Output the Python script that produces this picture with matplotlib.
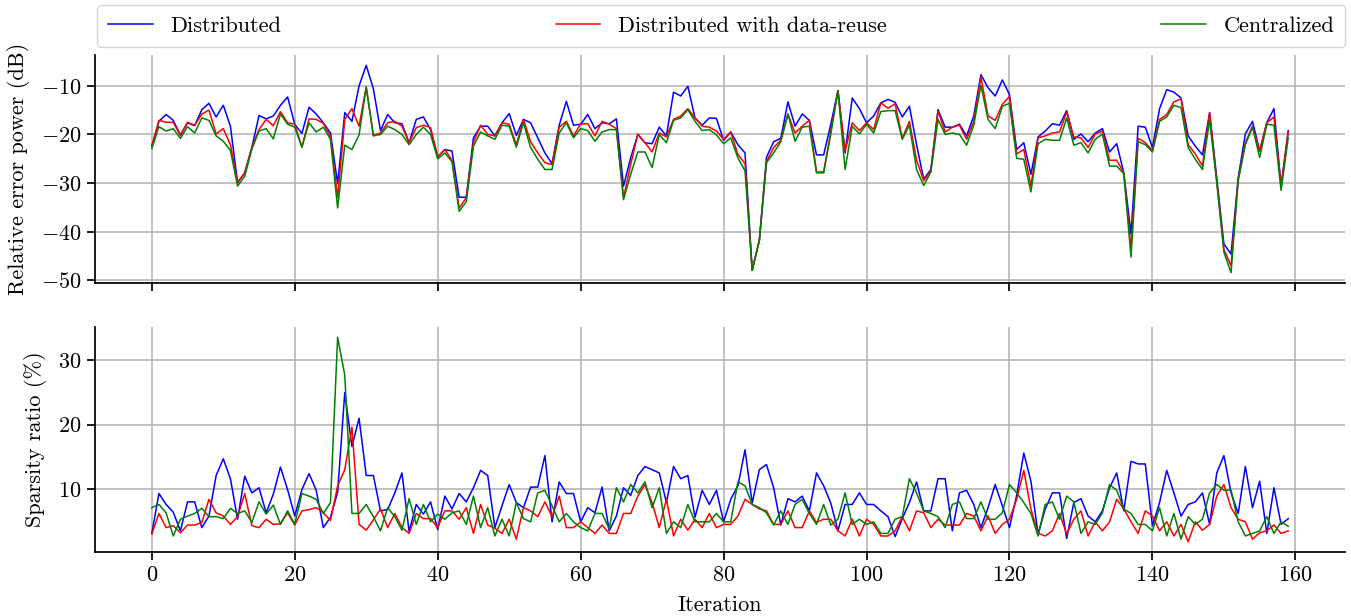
import matplotlib
matplotlib.use("Agg")
import matplotlib.pyplot as plt
import numpy as np

plt.rcParams['font.family'] = 'serif'
plt.rcParams['font.serif'] = ['cmr10', 'DejaVu Serif']
plt.rcParams['mathtext.fontset'] = 'cm'
plt.rcParams['axes.formatter.use_mathtext'] = True
plt.rcParams['font.size'] = 16

labels = ['Distributed', 'Distributed with data-reuse', 'Centralized']
colors = ['blue', 'red', 'green']

# relative error power (dB)
err_dist = [-22.4, -17.3, -15.9, -17.1, -20.1, -17.6, -18.2, -14.9, -13.6, -16.4,
            -14.0, -18.3, -29.9, -27.9, -22.7, -16.1, -16.8, -16.2, -14.0, -12.3,
            -17.9, -19.8, -14.4, -15.8, -17.6, -19.7, -30.1, -15.5, -17.3, -10.0,
            -5.8, -10.6, -19.2, -15.9, -17.6, -17.8, -21.7, -16.9, -16.4, -19.0,
            -24.6, -23.1, -23.4, -32.9, -32.9, -20.7, -18.3, -18.3, -20.3, -17.6,
            -15.7, -20.2, -16.9, -17.6, -20.7, -23.8, -26.0, -18.1, -13.2, -18.1,
            -17.9, -15.9, -18.8, -17.6, -17.8, -16.8, -30.6, -24.8, -20.0, -21.7,
            -21.9, -18.5, -20.3, -11.3, -12.1, -10.1, -16.6, -18.1, -16.6, -16.7,
            -21.2, -19.5, -22.1, -23.8, -47.9, -41.8, -24.7, -21.5, -20.8, -13.3,
            -18.3, -15.8, -17.1, -24.2, -24.2, -17.9, -11.0, -23.8, -12.5, -14.7,
            -17.6, -16.2, -13.5, -12.8, -13.4, -16.4, -14.2, -22.1, -29.2, -27.2,
            -14.9, -18.5, -18.5, -17.9, -20.3, -16.2, -7.7, -10.4, -12.1, -8.8,
            -11.8, -23.1, -21.7, -28.2, -20.5, -19.3, -17.8, -18.1, -15.1, -21.0,
            -19.9, -21.5, -19.7, -18.8, -23.6, -21.9, -27.9, -40.5, -18.3, -18.5,
            -22.7, -14.7, -10.8, -11.3, -12.5, -20.3, -22.4, -24.2, -15.5, -28.9,
            -42.5, -44.6, -28.9, -19.9, -17.3, -23.4, -17.6, -14.7, -30.6, -19.2]
err_reuse = [-22.4, -17.1, -17.5, -17.5, -20.2, -17.5, -18.1, -15.8, -15.0, -19.9,
             -18.8, -22.1, -29.9, -27.9, -22.7, -19.0, -16.9, -18.2, -15.3, -17.6,
             -17.9, -22.6, -16.8, -16.9, -17.7, -20.5, -33.0, -16.9, -14.7, -18.3,
             -10.2, -20.2, -19.7, -17.6, -17.3, -18.3, -21.7, -18.6, -18.1, -18.6,
             -24.6, -23.1, -25.3, -35.1, -33.0, -21.7, -18.1, -20.0, -20.3, -17.6,
             -17.9, -22.1, -16.9, -21.5, -23.8, -25.8, -26.2, -18.5, -17.3, -20.3,
             -17.8, -17.8, -20.3, -17.3, -17.9, -18.8, -33.0, -26.2, -19.9, -21.7,
             -23.6, -19.7, -20.5, -16.9, -16.2, -14.7, -16.6, -18.3, -18.5, -19.3,
             -21.0, -19.5, -24.1, -26.0, -47.9, -41.8, -25.6, -22.7, -21.2, -15.8,
             -19.7, -18.3, -17.1, -27.7, -27.7, -19.3, -11.0, -23.4, -17.6, -19.2,
             -17.6, -19.0, -13.5, -14.6, -13.7, -20.8, -17.3, -25.3, -29.5, -27.5,
             -15.2, -19.5, -18.5, -18.1, -21.0, -17.3, -8.2, -16.2, -17.1, -13.8,
             -12.2, -24.0, -23.1, -30.6, -20.7, -20.3, -19.7, -19.5, -15.4, -20.5,
             -20.7, -22.7, -19.9, -19.3, -25.3, -25.3, -27.9, -43.6, -20.8, -21.7,
             -23.3, -16.9, -15.9, -13.3, -12.7, -22.1, -24.0, -26.5, -15.5, -29.5,
             -43.6, -47.0, -29.2, -21.7, -18.3, -23.4, -17.6, -16.4, -30.6, -19.5]
err_central = [-22.9, -18.4, -19.3, -18.8, -20.8, -18.4, -19.7, -16.6, -17.1, -20.3,
               -21.4, -23.3, -30.6, -28.6, -23.0, -19.3, -18.8, -20.9, -15.8, -17.9,
               -18.5, -22.6, -17.6, -19.5, -18.5, -21.0, -35.1, -22.2, -23.1, -20.1,
               -10.3, -20.3, -20.0, -18.3, -19.0, -20.0, -22.1, -20.0, -18.5, -20.0,
               -25.0, -23.8, -25.6, -35.8, -33.8, -22.4, -19.5, -20.3, -21.0, -18.1,
               -18.3, -22.6, -17.6, -22.7, -25.1, -27.2, -27.2, -19.7, -17.6, -20.7,
               -18.8, -19.2, -21.4, -19.5, -19.0, -19.0, -33.4, -28.2, -23.6, -23.6,
               -26.8, -20.0, -21.7, -17.1, -16.6, -14.9, -17.3, -19.2, -19.0, -20.1,
               -21.9, -20.7, -24.8, -27.5, -47.9, -41.8, -25.8, -23.8, -21.5, -15.8,
               -21.4, -18.5, -18.3, -27.9, -27.9, -19.9, -11.0, -27.2, -18.3, -19.9,
               -17.9, -19.7, -15.3, -15.1, -15.1, -21.0, -18.1, -27.2, -30.5, -27.7,
               -16.9, -20.0, -19.7, -20.0, -22.2, -18.1, -9.9, -16.9, -18.8, -14.2,
               -13.6, -24.9, -25.1, -31.8, -21.9, -21.0, -21.2, -21.2, -16.6, -22.2,
               -21.7, -23.8, -21.0, -19.9, -26.5, -26.5, -28.1, -45.2, -21.5, -22.1,
               -23.6, -17.3, -16.4, -14.0, -14.5, -22.7, -25.1, -27.2, -16.9, -29.9,
               -44.2, -48.4, -29.5, -22.1, -18.5, -24.7, -17.9, -18.1, -31.5, -20.7]

# sparsity ratio (%)
sp_dist = [3.1, 9.3, 7.6, 6.4, 3.5, 8.0, 8.0, 4.0, 5.8, 12.1,
           14.7, 11.6, 5.3, 12.0, 9.4, 10.2, 6.3, 9.2, 13.4, 9.9,
           5.8, 9.9, 12.4, 9.8, 4.0, 5.6, 9.5, 25.0, 16.6, 21.0,
           12.1, 12.1, 6.6, 6.8, 9.4, 12.5, 3.4, 7.6, 6.1, 8.0,
           3.7, 8.9, 6.9, 9.3, 8.0, 10.2, 12.9, 12.1, 4.0, 7.4,
           10.7, 7.9, 7.1, 10.3, 10.3, 15.2, 4.9, 11.1, 9.3, 9.3,
           4.9, 7.1, 6.3, 10.3, 3.5, 5.8, 10.2, 9.0, 12.1, 13.5,
           13.0, 12.5, 7.9, 13.5, 11.6, 12.1, 5.6, 9.8, 7.6, 9.8,
           4.9, 8.4, 10.5, 16.1, 7.8, 13.0, 13.8, 10.2, 4.4, 8.5,
           8.0, 8.9, 6.6, 12.5, 10.5, 7.8, 3.5, 7.6, 7.6, 9.4,
           7.6, 7.6, 6.6, 5.7, 2.6, 5.4, 7.9, 11.1, 6.6, 6.6,
           11.6, 11.6, 3.5, 9.4, 9.8, 7.6, 4.0, 7.1, 10.7, 7.4,
           4.0, 9.0, 15.6, 11.2, 3.0, 6.9, 9.4, 9.4, 2.3, 7.9,
           8.5, 5.8, 4.9, 6.6, 10.2, 12.5, 6.6, 14.3, 13.9, 13.9,
           4.3, 7.9, 12.9, 9.4, 5.8, 7.6, 8.0, 9.4, 4.5, 12.5,
           15.2, 9.4, 6.2, 13.5, 7.1, 11.2, 3.1, 10.2, 4.5, 5.4]
sp_reuse = [3.0, 6.2, 4.0, 4.3, 3.2, 4.4, 4.4, 4.8, 8.4, 6.3,
            5.8, 4.5, 5.7, 9.3, 4.3, 4.0, 5.3, 4.5, 4.6, 6.3,
            4.4, 6.6, 6.8, 7.1, 6.3, 5.1, 10.5, 13.0, 19.6, 4.5,
            3.6, 5.2, 6.9, 4.0, 6.2, 4.0, 3.1, 6.2, 5.4, 5.4,
            4.0, 6.6, 6.6, 5.3, 7.1, 3.1, 7.6, 4.4, 3.9, 3.1,
            5.3, 2.2, 7.1, 6.6, 5.7, 8.0, 5.7, 8.9, 4.0, 4.0,
            4.9, 4.0, 3.1, 4.4, 3.1, 3.1, 6.2, 6.2, 8.9, 10.7,
            7.9, 4.0, 8.4, 2.7, 5.3, 3.6, 5.3, 4.0, 6.2, 4.0,
            4.5, 4.5, 5.8, 8.4, 7.6, 6.9, 6.6, 4.5, 4.5, 6.6,
            4.0, 4.0, 6.6, 4.8, 5.3, 5.3, 3.5, 2.7, 5.3, 2.7,
            5.3, 4.5, 2.7, 2.7, 3.5, 5.7, 3.5, 6.6, 6.3, 4.0,
            5.3, 4.4, 4.4, 4.4, 6.2, 5.8, 3.5, 5.8, 3.1, 4.5,
            5.3, 8.4, 12.9, 6.9, 3.1, 2.7, 3.5, 6.2, 3.0, 5.3,
            6.6, 2.7, 4.9, 3.5, 4.9, 8.4, 6.9, 4.9, 3.1, 6.6,
            5.8, 3.5, 4.9, 2.7, 4.5, 1.8, 4.9, 3.6, 4.5, 8.9,
            10.7, 7.1, 5.3, 4.9, 2.2, 3.2, 3.5, 4.4, 3.1, 3.5]
sp_central = [7.1, 7.6, 6.3, 2.7, 5.3, 5.8, 6.2, 7.0, 5.7, 5.7,
              5.4, 7.0, 6.2, 6.6, 4.8, 8.0, 6.1, 7.5, 4.5, 6.6,
              4.5, 9.3, 8.9, 8.4, 6.2, 7.9, 33.6, 27.7, 6.2, 6.2,
              7.6, 5.7, 3.5, 7.1, 5.7, 3.6, 8.5, 4.5, 7.6, 4.9,
              6.1, 5.3, 6.3, 6.6, 4.5, 8.9, 4.0, 7.1, 2.7, 5.3,
              2.7, 7.9, 5.4, 4.9, 9.4, 9.8, 7.4, 4.9, 6.2, 4.9,
              4.0, 3.5, 6.2, 6.2, 3.8, 10.2, 8.0, 10.7, 9.4, 11.1,
              7.1, 10.2, 3.1, 4.9, 4.0, 7.6, 4.9, 4.9, 4.9, 6.2,
              4.9, 4.9, 11.1, 10.5, 7.6, 7.1, 6.3, 4.4, 6.6, 4.5,
              7.6, 8.4, 6.2, 4.5, 7.6, 4.4, 5.3, 9.4, 4.5, 5.3,
              4.5, 4.9, 3.1, 3.1, 5.3, 5.7, 11.6, 9.4, 6.6, 6.2,
              5.7, 4.0, 7.6, 8.0, 5.4, 5.4, 8.0, 5.3, 5.3, 6.3,
              10.7, 9.4, 7.9, 6.2, 2.7, 7.6, 8.0, 5.3, 8.9, 8.0,
              3.1, 4.9, 4.5, 6.3, 10.7, 9.8, 6.9, 6.2, 4.5, 4.5,
              3.5, 7.1, 2.7, 6.2, 2.2, 5.7, 4.5, 5.3, 9.4, 10.7,
              9.8, 9.8, 4.9, 2.7, 3.1, 3.5, 5.7, 3.1, 4.9, 4.2]

it = np.arange(len(err_dist))

fig = plt.figure(figsize=(13.51, 6.16), dpi=100)
ax1 = fig.add_axes([0.0703, 0.5406, 0.9253, 0.3701])
ax2 = fig.add_axes([0.0703, 0.1039, 0.9253, 0.3653], sharex=ax1)

lines = []
for y, c, l in zip([err_dist, err_reuse, err_central], colors, labels):
    ln, = ax1.plot(it, y, color=c, lw=1.1, label=l)
    lines.append(ln)
for y, c in zip([sp_dist, sp_reuse, sp_central], colors):
    ax2.plot(it, y, color=c, lw=1.1)

for ax in (ax1, ax2):
    ax.grid(True, color='#b0b0b0', lw=1.1)
    ax.set_axisbelow(True)
    ax.spines['top'].set_visible(False)
    ax.spines['right'].set_visible(False)
    ax.spines['left'].set_linewidth(1.25)
    ax.spines['bottom'].set_linewidth(1.25)
    ax.tick_params(direction='out', length=6, width=1.25)
ax1.tick_params(labelbottom=False)
ax1.set_xticks([0, 20, 40, 60, 80, 100, 120, 140, 160])
ax1.set_yticks([-10, -20, -30, -40, -50])
ax2.set_yticks([10, 20, 30])

ax1.set_ylabel('Relative error power (dB)', labelpad=8)
ax2.set_ylabel('Sparsity ratio (%)', labelpad=8)
ax2.set_xlabel('Iteration', labelpad=8)
fig.align_ylabels([ax1, ax2])

fig.legend(handles=lines, loc='upper left', ncol=3, mode='expand',
           bbox_to_anchor=(0.0718, 0.992, 0.924, 0.0), borderaxespad=0,
           borderpad=0.5, fancybox=True, edgecolor='#cccccc')

fig.savefig('out.png', dpi=100)
